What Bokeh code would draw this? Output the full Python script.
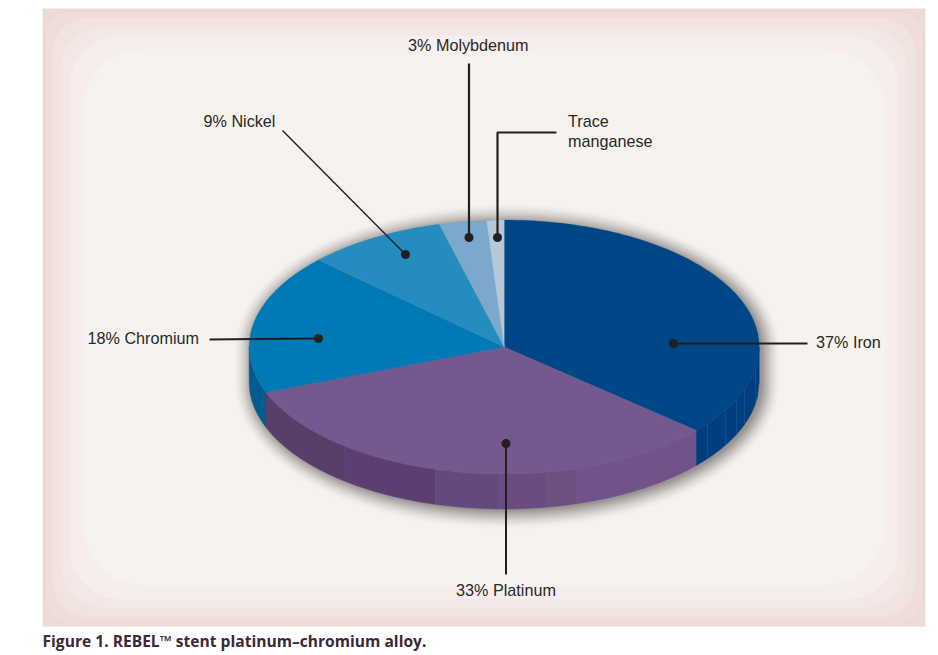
import numpy as np
from bokeh.plotting import figure
from bokeh.models import ColumnDataSource
from bokeh.core.properties import value
from bokeh.embed import file_html
from bokeh.resources import INLINE

# ---- data
materials = ["Iron", "Platinum", "Chromium", "Nickel", "Molybdenum", "Manganese"]
shares = [36.4, 32.8, 17.8, 8.9, 3.0, 1.1]
face_colors = ["#004787", "#73598f", "#007ab7", "#268cbf", "#7aa9cd", "#b5c8d8"]
labels = ["3% Molybdenum", "Trace", "manganese", "9% Nickel", "18% Chromium", "37% Iron", "33% Platinum"]
caption = "Figure 1. REBEL\u2122 stent platinum\u2013chromium alloy."

# ---- layout (frame coordinates equal window pixels)
CX, CY, RX, RY, DEPTH = 503.7, 346.5, 255.0, 127.0, 35.0
PANEL = (42, 8, 925, 626)
BANDS = [(0, 0.5, "#ecdad8"), (4, 22, "#eeddda"), (10, 34, "#f0e3e0"),
         (18, 44, "#f3e8e6"), (27, 52, "#f6edec"), (41, 60, "#f6f3ef")]

p = figure(width=938, height=655, x_range=(0, 938), y_range=(655, 0),
           toolbar_location=None, output_backend="svg", min_border=0,
           background_fill_color="white", border_fill_color="white")
p.axis.visible = False
p.grid.visible = False
p.outline_line_color = None


def rounded(x0, y0, x1, y1, r, n=24):
    xs, ys = [], []
    for cx, cy, a0 in [(x1 - r, y0 + r, -90), (x1 - r, y1 - r, 0), (x0 + r, y1 - r, 90), (x0 + r, y0 + r, 180)]:
        a = np.radians(np.linspace(a0, a0 + 90, n))
        xs += list(cx + r * np.cos(a))
        ys += list(cy + r * np.sin(a))
    return xs, ys


for inset, r, col in BANDS:
    x, y = rounded(PANEL[0] + inset, PANEL[1] + inset, PANEL[2] - inset, PANEL[3] - inset, r)
    p.patch(x, y, fill_color=col, line_color=None)


# ---- soft shadow
def hull(e, ox, oy):
    a = np.radians(np.linspace(180, 360, 90))
    b = np.radians(np.linspace(0, 180, 90))
    x = np.r_[CX + ox + (RX + e) * np.cos(a), CX + ox + (RX + e) * np.cos(b)]
    y = np.r_[CY + oy + (RY + e) * np.sin(a), CY + oy + DEPTH + (RY + e) * np.sin(b)]
    return x, y


for e in np.arange(18, -1, -1.5):
    x, y = hull(e, 3, 2)
    p.patch(x, y, fill_color="#332c2c", fill_alpha=0.008 + 0.0040 * (18 - e), line_color=None)


# ---- pie
def point(t, rx=RX, ry=RY):
    return CX + rx * np.sin(t), CY - ry * np.cos(t)


edges = 2 * np.pi * np.r_[0, np.cumsum(shares)] / np.sum(shares)


def rim(x0, x1, color):
    # rim piece between two x positions along the front arc
    xs = np.linspace(x0, x1, 40)
    ytop = CY + RY * np.sqrt(np.clip(1 - ((xs - CX) / RX) ** 2, 0, 1))
    p.patch(np.r_[xs, xs[::-1]], np.r_[ytop, (ytop + DEPTH)[::-1]], fill_color=color, line_color=color, line_width=0.5)


iron_end_x = point(edges[1])[0]
plat_end_x = point(edges[2])[0]
rim(CX - RX, plat_end_x, "#005b8e")
plat_steps = [plat_end_x, 344, 435, 498, 546, 576, iron_end_x]
plat_cols = ["#573f69", "#5b3f72", "#644a7c", "#6a4b82", "#6c5080", "#70538a"]
for a, b, c in zip(plat_steps[:-1], plat_steps[1:], plat_cols):
    rim(a, b, c)
rim(iron_end_x, CX + RX, "#003f7f")
for fx in [707, 725, 736, 744, 755]:
    ytop = CY + RY * np.sqrt(1 - ((fx - CX) / RX) ** 2)
    p.line([fx, fx], [ytop, ytop + DEPTH], line_color="#1c5289", line_width=0.8)

for i, col in enumerate(face_colors):
    t = np.linspace(edges[i], edges[i + 1], 100)
    x, y = point(t)
    p.patch(np.r_[CX, x], np.r_[CY, y], fill_color=col, line_color=col, line_width=0.3)

# ---- callouts
INK = "#231f20"
leaders = [
    ([468.5, 468.5], [63, 237], 2.2),
    ([556, 497, 497], [132, 132, 237], 2.2),
    ([282, 405], [130, 254], 1.4),
    ([209, 318], [339, 338], 2.0),
    ([673, 807], [343, 343], 2.0),
    ([505.5, 505.5], [443, 574], 2.0),
]
for lx, ly, w in leaders:
    p.line(lx, ly, line_color=INK, line_width=w)
p.scatter([468.5, 497, 405, 318, 673, 505.5], [237, 237, 254, 338, 343, 443], size=9,
          fill_color=INK, line_color=None)

tsrc = ColumnDataSource(dict(
    x=[407.5, 567.5, 567.5, 203, 87, 815.5, 455.5],
    y=[44.5, 120.5, 140.5, 120.5, 337, 341.5, 589.5],
    t=labels))
p.text("x", "y", text="t", source=tsrc, text_font=value("Liberation Sans"), text_font_size="16.2px",
       text_color="#2b2829", text_baseline="middle", text_align="left")
p.text([42], [640], text=[caption], text_font=value("Open Sans"), text_font_style="bold",
       text_font_size="15.6px", text_color="#3a2a33", text_baseline="middle", text_align="left")

open("out.html", "w").write(file_html(p, INLINE))
